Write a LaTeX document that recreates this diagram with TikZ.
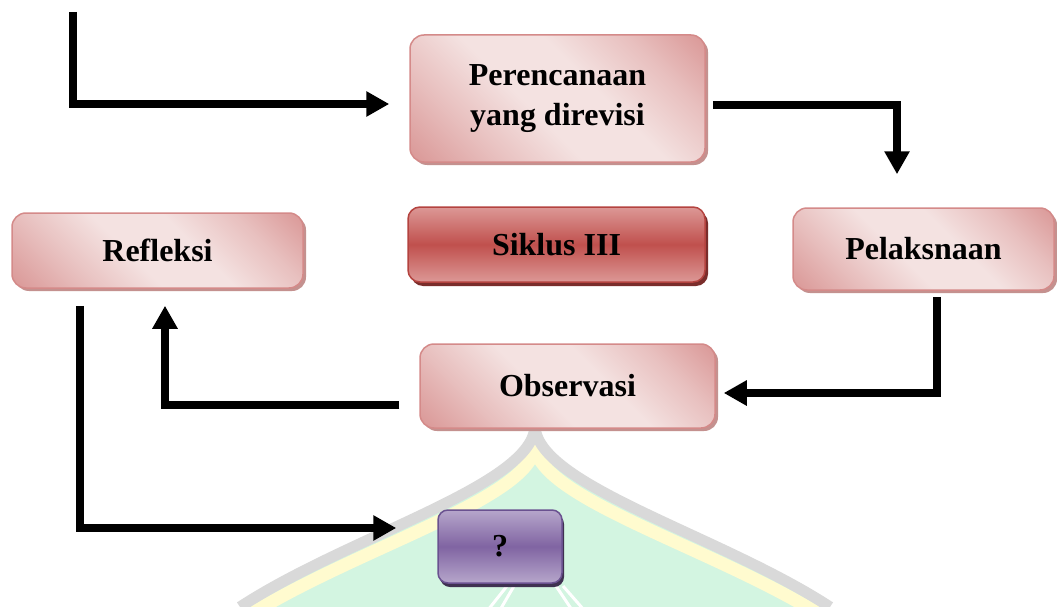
\documentclass[tikz,border=0pt]{standalone}
\usepackage{fontspec}
\setmainfont{Liberation Serif}
\usetikzlibrary{arrows.meta,shadows}

\definecolor{pinkdark}{HTML}{D99594}
\definecolor{pinkmid}{HTML}{E8C0BF}
\definecolor{pinklight}{HTML}{F4E2E1}
\definecolor{pinkline}{HTML}{D48A89}
\definecolor{pinkshadow}{HTML}{C4918F}
\definecolor{reddark}{HTML}{C0504D}
\definecolor{redlight}{HTML}{DC9896}
\definecolor{redline}{HTML}{B4433F}
\definecolor{redshadow}{HTML}{7A2D2B}
\definecolor{purpdark}{HTML}{8064A2}
\definecolor{purplight}{HTML}{B6A6CB}
\definecolor{purpline}{HTML}{6A5190}
\definecolor{purpshadow}{HTML}{3F3151}
\definecolor{wmgrey}{HTML}{D9D9D9}
\definecolor{wmyellow}{HTML}{FFFBCF}
\definecolor{wmgreen}{HTML}{D3F5E1}

% soft pink fill: dark towards two opposite corners, pale across the middle
\pgfdeclareverticalshading{pinkfill}{100bp}{
  color(0bp)=(pinkdark); color(14bp)=(pinkdark); color(30bp)=(pinkmid);
  color(44bp)=(pinklight); color(58bp)=(pinklight); color(72bp)=(pinkmid);
  color(86bp)=(pinkdark); color(100bp)=(pinkdark)}

\tikzset{
  lbl/.style={font=\fontsize{32}{40}\selectfont\bfseries, align=center, text=black, inner sep=0pt},
  pinkbox/.style={lbl, draw=pinkline, line width=1.5pt, rounded corners=14pt,
    shading=pinkfill, shading angle=-45,
    drop shadow={shadow xshift=3pt, shadow yshift=-3pt, fill=pinkshadow, opacity=1}},
  redbox/.style={lbl, draw=redline, line width=1.5pt, rounded corners=12pt,
    top color=redlight, bottom color=redlight, middle color=reddark,
    drop shadow={shadow xshift=3pt, shadow yshift=-4pt, fill=redshadow, opacity=1}},
  purplebox/.style={lbl, draw=purpline, line width=1.5pt, rounded corners=10pt,
    top color=purplight, bottom color=purplight, middle color=purpdark,
    drop shadow={shadow xshift=2pt, shadow yshift=-4pt, fill=purpshadow, opacity=1}},
  conn/.style={draw=black, line width=8pt, line join=miter,
    -{Triangle[width=24pt,length=23pt]}},
  wmline/.style={line width=11pt, wmgrey},
  wmband/.style={line width=13pt, wmyellow}
}

\begin{document}
\begin{tikzpicture}[x=1pt,y=-1pt]
  \useasboundingbox (0,0) rectangle (1057,607);
  \fill[white] (0,0) rectangle (1057,607);

  % dome emblem in the background
  \begin{scope}
    \clip (0,0) rectangle (1057,607);
    \fill[wmgreen] (535,430) .. controls (535,485) and (350,535) .. (240,607)
      -- (240,640) -- (830,640) -- (830,607)
      .. controls (720,535) and (535,485) .. (535,430) -- cycle;
    \draw[wmband] (535,444) .. controls (535,499) and (350,549) .. (240,621);
    \draw[wmband] (535,444) .. controls (535,499) and (720,549) .. (830,621);
    \draw[wmline] (535,425) .. controls (535,485) and (350,535) .. (240,607);
    \draw[wmline] (535,425) .. controls (535,485) and (720,535) .. (830,607);
    \draw[white, line width=3pt] (488,610) -- (507,586);
    \draw[white, line width=3pt] (500,610) -- (514,586);
    \draw[white, line width=3pt] (584,610) -- (563,586);
    \draw[white, line width=3pt] (572,610) -- (556,586);
  \end{scope}

  % boxes
  \node[pinkbox, minimum width=295pt, minimum height=127pt] (plan) at (557.5,98.5) {Perencanaan\\yang direvisi};
  \node[redbox, minimum width=297pt, minimum height=75pt] (siklus) at (556.5,244.5) {Siklus III};
  \node[pinkbox, minimum width=291pt, minimum height=75pt] (refl) at (157.5,250.5) {Refleksi};
  \node[pinkbox, minimum width=261pt, minimum height=82pt] (pel) at (923.5,249) {Pelaksnaan};
  \node[pinkbox, minimum width=295pt, minimum height=84pt] (obs) at (567.5,386) {Observasi};
  \node[purplebox, minimum width=124pt, minimum height=73pt] (q) at (500,546.5) {?};

  % connectors
  \coordinate (entry) at (73,12);
  \draw[conn] (entry) |- ([shift={(-20,5.5)}]plan.west);
  \draw[conn] ([shift={(7,6.5)}]plan.east) -| ([shift={(-26.5,-33)}]pel.north);
  \draw[conn] ([shift={(13.5,6)}]pel.south) |- ([shift={(8,7)}]obs.east);
  \draw[conn] ([shift={(-20,19)}]obs.west) -| ([shift={(7.5,17)}]refl.south);
  \draw[conn] ([shift={(-77.5,17)}]refl.south) |- ([shift={(-41,-18.5)}]q.west);
\end{tikzpicture}
\end{document}
